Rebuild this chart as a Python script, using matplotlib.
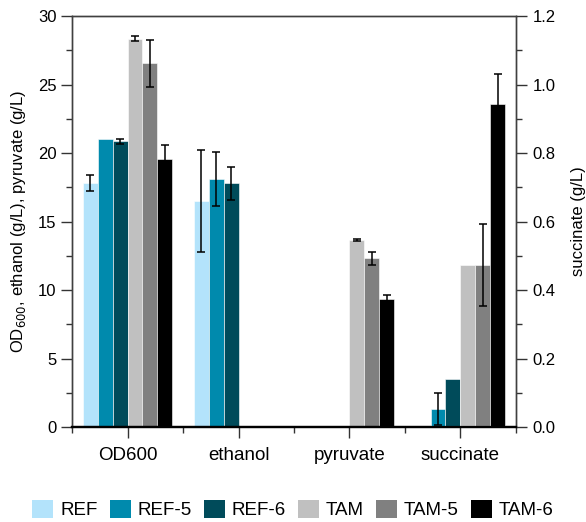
import matplotlib.pyplot as plt
from matplotlib.patches import Patch
from matplotlib.ticker import MultipleLocator

plt.rcParams['font.family'] = ['Liberation Sans', 'DejaVu Sans']

groups = ["OD600", "ethanol", "pyruvate", "succinate"]
strains = ["REF", "REF-5", "REF-6", "TAM", "TAM-5", "TAM-6"]
colors = ["#b3e3fb", "#008aad", "#004b5a", "#c0c0c0", "#808080", "#000000"]

# left axis groups (g/L or OD)
od600 = [17.8, 21.05, 20.85, 28.35, 26.55, 19.55]
od600_err = [0.6, 0, 0.2, 0.2, 1.7, 1.05]
ethanol = [16.5, 18.1, 17.8, 0, 0, 0]
ethanol_err = [3.7, 2.0, 1.2, 0, 0, 0]
pyruvate = [0, 0, 0, 13.65, 12.3, 9.35]
pyruvate_err = [0, 0, 0, 0.1, 0.5, 0.27]
# right axis
succinate = [0, 0.053, 0.141, 0.473, 0.473, 0.942]
succinate_err = [0, 0.047, 0, 0, 0.12, 0.09]

left_vals = [od600, ethanol, pyruvate]
left_errs = [od600_err, ethanol_err, pyruvate_err]

fig = plt.figure(figsize=(5.86, 5.22), dpi=100)
ax = fig.add_axes([0.1229, 0.182, 0.7576, 0.7873])
ax2 = ax.twinx()

width = 0.135


def draw_group(axis, gi, vals, errs):
    for j in range(len(strains)):
        x = gi + 0.5 + (j - 2.5) * width
        if vals[j] > 0:
            axis.bar(x, vals[j], width, color=colors[j], edgecolor="white",
                     linewidth=0.4, zorder=2)
        if errs[j] > 0:
            axis.errorbar(x, vals[j], yerr=errs[j], fmt="none", ecolor="black",
                          elinewidth=1.1, capsize=3, capthick=1.1, zorder=3)


for gi in range(3):
    draw_group(ax, gi, left_vals[gi], left_errs[gi])
draw_group(ax2, 3, succinate, succinate_err)

ax.set_xlim(0, 4)
ax.set_ylim(0, 30)
ax2.set_ylim(0, 1.2)

ax.set_xticks([0.5, 1.5, 2.5, 3.5])
ax.set_xticklabels(groups, fontsize=13.5)
ax.set_xticks([0, 1, 2, 3, 4], minor=True)
ax.tick_params(axis="x", which="major", length=8, width=1, color="#333333", pad=6.5)
ax.tick_params(axis="x", which="minor", length=4.5, width=1, color="#333333")

ax.yaxis.set_major_locator(MultipleLocator(5))
ax.yaxis.set_minor_locator(MultipleLocator(2.5))
ax.tick_params(axis="y", which="major", length=8, width=1, color="#333333",
               labelsize=12, pad=3)
ax.tick_params(axis="y", which="minor", length=4.5, width=1, color="#333333")

ax2.yaxis.set_major_locator(MultipleLocator(0.2))
ax2.yaxis.set_minor_locator(MultipleLocator(0.1))
ax2.yaxis.set_major_formatter(plt.FormatStrFormatter("%.1f"))
ax2.tick_params(axis="y", which="major", length=8, width=1, color="#333333",
                labelsize=12, pad=4)
ax2.tick_params(axis="y", which="minor", length=4.5, width=1, color="#333333")

ax.set_ylabel("OD$_{600}$, ethanol (g/L), pyruvate (g/L)", fontsize=12, labelpad=7)
ax2.set_ylabel("succinate (g/L)", fontsize=12, labelpad=11)

for a in (ax, ax2):
    for side in ("left", "right", "top"):
        a.spines[side].set_color("#404040")
        a.spines[side].set_linewidth(1.0)
    a.spines["bottom"].set_color("black")
    a.spines["bottom"].set_linewidth(1.6)

handles = [Patch(facecolor=c, edgecolor="none") for c in colors]
fig.legend(handles, strains, loc="center", bbox_to_anchor=(0.5, 0.024), ncol=6,
           frameon=False, fontsize=13.5, handlelength=1.12, handleheight=1.12,
           handletextpad=0.37, columnspacing=0.64, borderpad=0, borderaxespad=0)

fig.savefig("out.png", dpi=100)
